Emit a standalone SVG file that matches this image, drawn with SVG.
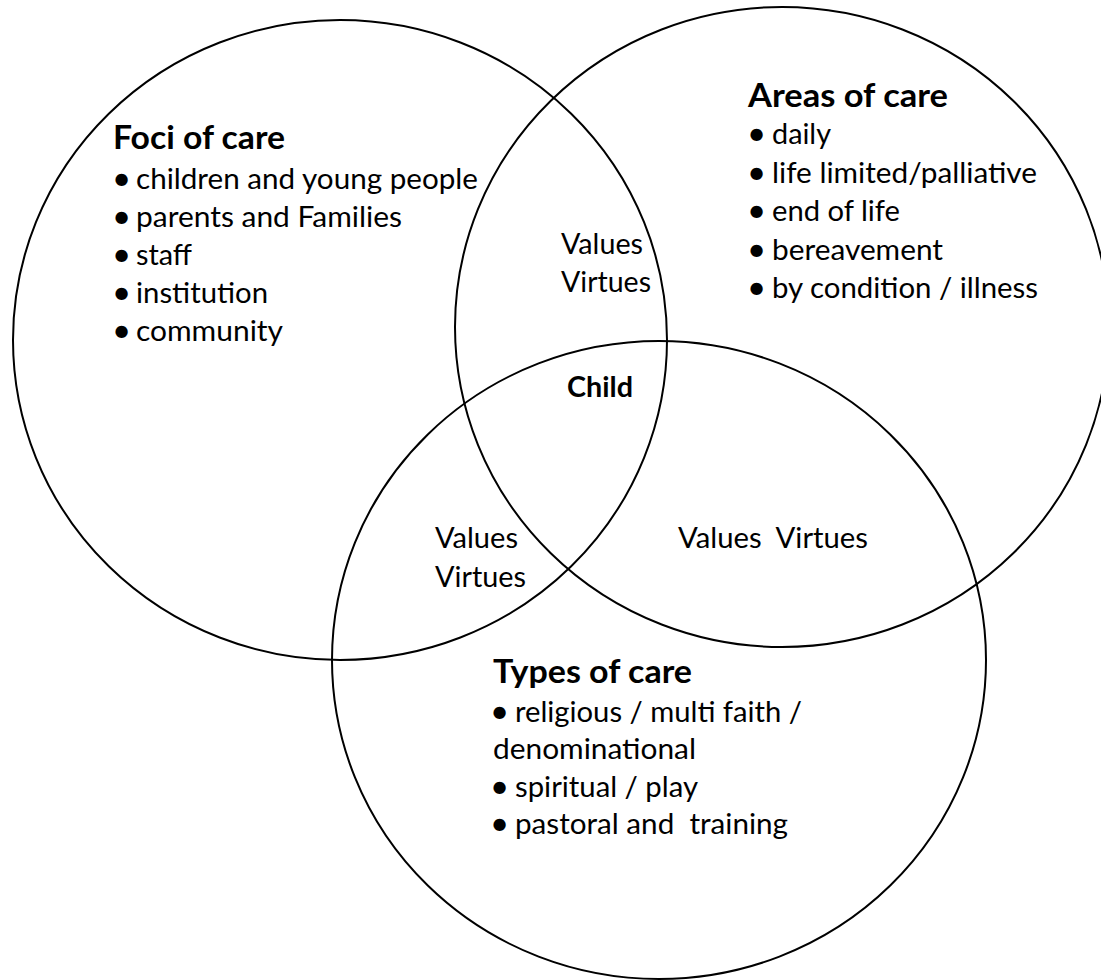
<svg xmlns="http://www.w3.org/2000/svg" width="1101" height="980" viewBox="0 0 1101 980">
<style>
.c{fill:none;stroke:#000;stroke-width:2}
.t{font-family:Lato,"Open Sans","Liberation Sans",sans-serif;font-size:29.5px;fill:#000;white-space:pre}
.h{font-family:Lato,"Open Sans","Liberation Sans",sans-serif;font-size:33px;font-weight:bold;fill:#000}
.b{font-family:Lato,"Open Sans","Liberation Sans",sans-serif;font-size:28px;font-weight:bold;fill:#000}
.bu{font-size:33px}
</style>
<rect width="1101" height="980" fill="#fff"/>
<g id="foci">
<ellipse class="c" cx="340" cy="340" rx="327" ry="320"/>
<text class="h" x="113" y="149" textLength="172" lengthAdjust="spacingAndGlyphs">Foci of care</text>
<text class="t" y="189"><tspan class="bu" x="112" dy="1">•</tspan><tspan x="136" dy="-1" textLength="342" lengthAdjust="spacingAndGlyphs">children and young people</tspan></text>
<text class="t" y="227"><tspan class="bu" x="112" dy="1">•</tspan><tspan x="136" dy="-1" textLength="266" lengthAdjust="spacingAndGlyphs">parents and Families</tspan></text>
<text class="t" y="265"><tspan class="bu" x="112" dy="1">•</tspan><tspan x="136" dy="-1" textLength="56" lengthAdjust="spacingAndGlyphs">staff</tspan></text>
<text class="t" y="303"><tspan class="bu" x="112" dy="1">•</tspan><tspan x="136" dy="-1" textLength="132" lengthAdjust="spacingAndGlyphs">institution</tspan></text>
<text class="t" y="341"><tspan class="bu" x="112" dy="1">•</tspan><tspan x="136" dy="-1" textLength="147" lengthAdjust="spacingAndGlyphs">community</tspan></text>
</g>
<g id="areas">
<ellipse class="c" cx="782" cy="327" rx="327" ry="320"/>
<text class="h" x="748" y="107" textLength="200" lengthAdjust="spacingAndGlyphs">Areas of care</text>
<text class="t" y="144"><tspan class="bu" x="747" dy="1">•</tspan><tspan x="772" dy="-1" textLength="59" lengthAdjust="spacingAndGlyphs">daily</tspan></text>
<text class="t" y="183"><tspan class="bu" x="747" dy="1">•</tspan><tspan x="772" dy="-1" textLength="265" lengthAdjust="spacingAndGlyphs">life limited/palliative</tspan></text>
<text class="t" y="221"><tspan class="bu" x="747" dy="1">•</tspan><tspan x="772" dy="-1" textLength="128" lengthAdjust="spacingAndGlyphs">end of life</tspan></text>
<text class="t" y="260"><tspan class="bu" x="747" dy="1">•</tspan><tspan x="772" dy="-1" textLength="171" lengthAdjust="spacingAndGlyphs">bereavement</tspan></text>
<text class="t" y="298"><tspan class="bu" x="747" dy="1">•</tspan><tspan x="772" dy="-1" textLength="266" lengthAdjust="spacingAndGlyphs">by condition / illness</tspan></text>
</g>
<g id="types">
<ellipse class="c" cx="659" cy="660" rx="327" ry="319"/>
<text class="h" x="493" y="683" textLength="199" lengthAdjust="spacingAndGlyphs">Types of care</text>
<text class="t" y="722"><tspan class="bu" x="490" dy="1">•</tspan><tspan x="515" dy="-1" textLength="287" lengthAdjust="spacingAndGlyphs">religious / multi faith /</tspan></text>
<text class="t" x="493" y="759" textLength="203" lengthAdjust="spacingAndGlyphs">denominational</text>
<text class="t" y="797"><tspan class="bu" x="490" dy="1">•</tspan><tspan x="515" dy="-1" textLength="183" lengthAdjust="spacingAndGlyphs">spiritual / play</tspan></text>
<text class="t" y="834"><tspan class="bu" x="490" dy="1">•</tspan><tspan x="515" dy="-1" textLength="273" lengthAdjust="spacingAndGlyphs">pastoral and  training</tspan></text>
</g>
<g id="overlaps">
<text class="t" x="561" y="254" textLength="82" lengthAdjust="spacingAndGlyphs">Values</text>
<text class="t" x="561" y="292" textLength="90" lengthAdjust="spacingAndGlyphs">Virtues</text>
<text class="b" x="567" y="397" textLength="66" lengthAdjust="spacingAndGlyphs">Child</text>
<text class="t" x="435" y="548" textLength="83" lengthAdjust="spacingAndGlyphs">Values</text>
<text class="t" x="435" y="587" textLength="91" lengthAdjust="spacingAndGlyphs">Virtues</text>
<text class="t" x="678" y="548" textLength="190" lengthAdjust="spacingAndGlyphs">Values  Virtues</text>
</g>
<g id="connectors"/>
</svg>
